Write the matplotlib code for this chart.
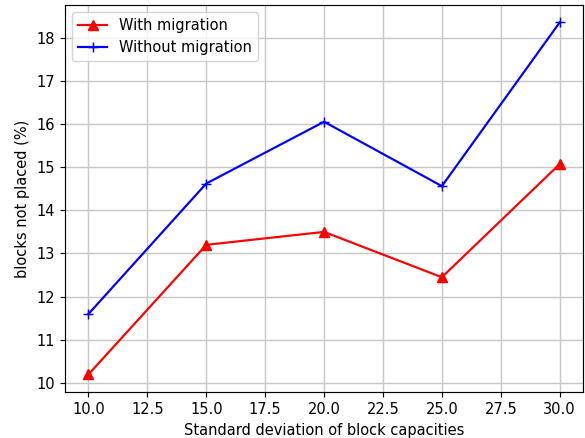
import matplotlib
matplotlib.use("Agg")
import matplotlib.pyplot as plt

std_dev = [10, 15, 20, 25, 30]
with_migration = [10.2, 13.2, 13.5, 12.45, 15.07]
without_migration = [11.6, 14.62, 16.05, 14.56, 18.35]

DPI = 105
fig, ax = plt.subplots(figsize=(585 / DPI, 438 / DPI), dpi=DPI)
fig.subplots_adjust(left=0.111, right=0.997, bottom=0.105, top=0.989)
ax.plot(std_dev, with_migration, color="red", marker="^", markersize=7, label="With migration")
ax.plot(std_dev, without_migration, color="blue", marker="+", markersize=7, label="Without migration")
ax.set_xlabel("Standard deviation of block capacities")
ax.set_ylabel("blocks not placed (%)")
ax.grid(True, color="#c8c8c8", linewidth=1)
ax.legend(loc="upper left")
fig.savefig("out.png", dpi=DPI)
